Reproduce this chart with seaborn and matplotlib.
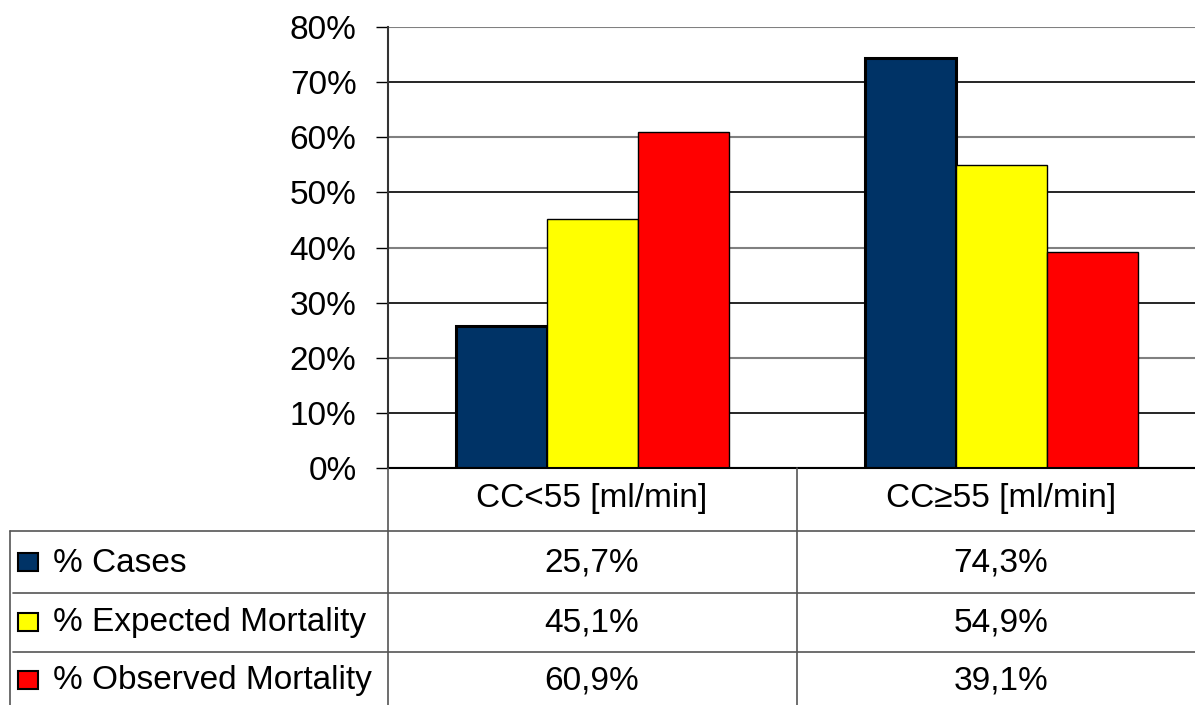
import matplotlib
matplotlib.use("Agg")
import matplotlib.pyplot as plt
import seaborn as sns
import pandas as pd
from matplotlib.lines import Line2D
from matplotlib.patches import Rectangle

categories = ["CC<55 [ml/min]", "CC≥55 [ml/min]"]
series = ["% Cases", "% Expected Mortality", "% Observed Mortality"]
cases = [25.7, 74.3]
expected = [45.1, 54.9]
observed = [60.9, 39.1]
colors = ["#003366", "#FFFF00", "#FF0000"]
yticks = [0, 10, 20, 30, 40, 50, 60, 70, 80]

sns.set_theme(style="white")
plt.rcParams['font.family'] = ['Liberation Sans', 'DejaVu Sans']
plt.rcParams['text.color'] = 'black'
plt.rcParams['ytick.color'] = 'black'
plt.rcParams['ytick.labelcolor'] = 'black'

rows = []
for s, vals in zip(series, [cases, expected, observed]):
    for c, v in zip(categories, vals):
        rows.append({"category": c, "series": s, "value": v})
df = pd.DataFrame(rows)

W, H = 1195, 705
fig = plt.figure(figsize=(W / 100, H / 100), dpi=100)
fs = 24

left, right, bottom, top = 388, 1206, 468, 27
ax = fig.add_axes([left / W, (H - bottom) / H, (right - left) / W, (bottom - top) / H])
sns.barplot(data=df, x="category", y="value", hue="series", palette=colors,
            hue_order=series, order=categories, width=0.667, ax=ax,
            legend=False, edgecolor="black", linewidth=1, saturation=1)
for i, p in enumerate(ax.patches):
    if i < len(categories):
        p.set_linewidth(2.2)

ax.set_xlim(-0.5, 1.5)
ax.set_ylim(0, 80)
ax.set_yticks(yticks)
ax.set_yticklabels([f"{t}%" for t in yticks], fontsize=fs, color="black")
ax.set_xticks([])
ax.set_xlabel("")
ax.set_ylabel("")
ax.tick_params(axis="y", which="major", direction="out", length=8.6, width=1, color="black", pad=14, left=True)
ax.yaxis.grid(True)
for t, gl in zip(yticks, ax.get_ygridlines()):
    gl.set_color("#808080" if (t // 10) % 2 == 0 else "black")
    gl.set_linewidth(1.5 if (t // 10) % 2 == 0 else 1.2)
ax.set_axisbelow(True)
for s in ["top", "right"]:
    ax.spines[s].set_visible(False)
ax.spines["left"].set_color("#333333")
ax.spines["left"].set_linewidth(1.5)
ax.spines["bottom"].set_color("black")
ax.spines["bottom"].set_linewidth(1.5)

# data table
def px(x):
    return x / W

def py(y):
    return 1 - y / H

def hline(x0, x1, y, c="#555555", lw=1.2):
    fig.add_artist(Line2D([px(x0), px(x1)], [py(y), py(y)], color=c, lw=lw, transform=fig.transFigure))

def vline(x, y0, y1, c="#555555", lw=1.2):
    fig.add_artist(Line2D([px(x), px(x)], [py(y0), py(y1)], color=c, lw=lw, transform=fig.transFigure))

row_lines = [531, 593, 652]
row_centers = [563, 623, 681]
col_centers = [592, 1001]

hline(10, W, row_lines[0])
hline(13, W, row_lines[1])
hline(13, W, row_lines[2])
vline(10, row_lines[0], H)
vline(388, bottom, H)
vline(797, bottom, H)

for c, xc in zip(categories, col_centers):
    fig.text(px(xc), py(499), c, ha="center", va="center", fontsize=fs, color="black")

for i, (s, vals) in enumerate(zip(series, [cases, expected, observed])):
    yc = row_centers[i]
    fig.add_artist(Rectangle((px(18), py(yc + 8)), px(20), 18 / H,
                             facecolor=colors[i], edgecolor="black", lw=1.5,
                             transform=fig.transFigure))
    fig.text(px(53), py(yc), s, ha="left", va="center", fontsize=fs, color="black")
    for v, xc in zip(vals, col_centers):
        fig.text(px(xc), py(yc), f"{v:.1f}%".replace(".", ","), ha="center", va="center",
                 fontsize=fs, color="black")

fig.savefig("out.png", dpi=100)
